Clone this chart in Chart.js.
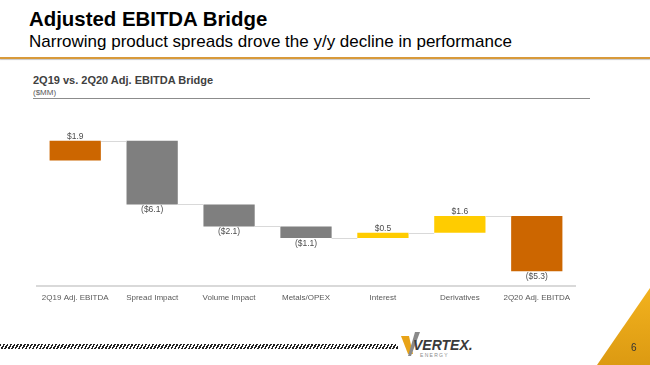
<!DOCTYPE html>
<html>
<head>
<meta charset="utf-8">
<script src="https://cdn.jsdelivr.net/npm/chart.js@4/dist/chart.umd.min.js"></script>
<style>
  html, body { margin: 0; padding: 0; background: #fff; }
  body { width: 650px; height: 365px; position: relative; overflow: hidden; font-family: "Liberation Sans", Arial, Helvetica, sans-serif; }
  .abs { position: absolute; white-space: nowrap; }
  #title { left: 29px; top: 8px; font-size: 20.4px; font-weight: bold; color: #000; }
  #subtitle { left: 29px; top: 32px; font-size: 17px; color: #000; }
  #goldline { left: 0; top: 57px; width: 650px; height: 2px; background: #d89a3a; box-shadow: 0 1px 1px #c8c8c8; }
  #ctitle { left: 33px; top: 74px; font-size: 11px; font-weight: bold; color: #404040; }
  #cunit { left: 33px; top: 88px; font-size: 8px; color: #595959; }
  #cline { left: 33px; top: 98px; width: 557px; height: 1px; background: #8c8c8c; }
  #chartbox { left: 35px; top: 115px; width: 542px; height: 195px; }
  #hatch { left: 0; top: 344px; width: 398px; height: 5px;
    background: repeating-linear-gradient(120deg, #222 0 1.5px, #fff 1.5px 3px); }
  #logo { left: 398px; top: 330px; }
  #page { left: 631px; top: 342px; font-size: 10px; color: #333; }
</style>
</head>
<body>
<div class="abs" id="title">Adjusted EBITDA Bridge</div>
<div class="abs" id="subtitle">Narrowing product spreads drove the y/y decline in performance</div>
<div class="abs" id="goldline"></div>
<div class="abs" id="ctitle">2Q19 vs. 2Q20 Adj. EBITDA Bridge</div>
<div class="abs" id="cunit">($MM)</div>
<div class="abs" id="cline"></div>
<div class="abs" id="chartbox"><canvas id="chart"></canvas></div>
<div class="abs" id="hatch"></div>
<svg class="abs" id="logo" width="90" height="32" viewBox="0 0 90 32">
  <polygon points="3,6 11,6 15,24 10,24" fill="#e8a317"/>
  <polygon points="17,2 22,2 13,26 10,26" fill="#8a8a8a"/>
  <text x="15" y="20" font-family="Liberation Sans, Arial, sans-serif" font-size="14" font-weight="bold" font-style="italic" fill="#3a3a3a">VERTEX.</text>
  <text x="22" y="27" font-family="Liberation Sans, Arial, sans-serif" font-size="5" letter-spacing="1.3" fill="#8a8a8a">ENERGY</text>
</svg>
<svg class="abs" style="left:0;top:0" width="650" height="365">
  <defs>
    <linearGradient id="tri" x1="0" y1="0" x2="0" y2="1">
      <stop offset="0" stop-color="#f2b21e"/>
      <stop offset="1" stop-color="#dc9a12"/>
    </linearGradient>
  </defs>
  <polygon points="650,288 597,365 650,365" fill="url(#tri)"/>
</svg>
<div class="abs" id="page">6</div>

<script>
const categories = ['2Q19 Adj. EBITDA', 'Spread Impact', 'Volume Impact', 'Metals/OPEX', 'Interest', 'Derivatives', '2Q20 Adj. EBITDA'];
const changes = [1.9, -6.1, -2.1, -1.1, 0.5, 1.6, -5.3];
const valueLabels = ['$1.9', '($6.1)', '($2.1)', '($1.1)', '$0.5', '$1.6', '($5.3)'];
const barColors = ['#cc6600', '#7f7f7f', '#7f7f7f', '#7f7f7f', '#ffcc00', '#ffcc00', '#cc6600'];

// floating bars: each bar starts where the previous one ended
let level = 0;
const ranges = changes.map(c => {
    const start = level;
    const end = level + c;
    level = end;
    return [start, end];
});
// closing bar hangs from the final running level
ranges[ranges.length - 1] = [ranges[ranges.length - 2][1], ranges[ranges.length - 2][1] + changes[changes.length - 1]];

const bridgeDecor = {
    id: 'bridgeDecor',
    afterDatasetsDraw(chart) {
        const ctx = chart.ctx;
        const y = chart.scales.y;
        const bars = chart.getDatasetMeta(0).data;
        ctx.save();
        // connector lines
        ctx.strokeStyle = '#d9d9d9';
        ctx.lineWidth = 1;
        for (let i = 0; i < bars.length - 1; i++) {
            const py = Math.round(y.getPixelForValue(ranges[i][1])) + 0.5;
            ctx.beginPath();
            ctx.moveTo(bars[i].x + bars[i].width / 2, py);
            ctx.lineTo(bars[i + 1].x - bars[i + 1].width / 2, py);
            ctx.stroke();
        }
        // value labels
        ctx.font = '8.5px "Liberation Sans", Arial, sans-serif';
        ctx.fillStyle = '#4d4d4d';
        ctx.textAlign = 'center';
        bars.forEach((bar, i) => {
            const a = y.getPixelForValue(ranges[i][0]);
            const b = y.getPixelForValue(ranges[i][1]);
            if (changes[i] >= 0) {
                ctx.textBaseline = 'bottom';
                ctx.fillText(valueLabels[i], bar.x, Math.min(a, b));
            } else {
                ctx.textBaseline = 'top';
                ctx.fillText(valueLabels[i], bar.x, Math.max(a, b) + 1);
            }
        });
        ctx.restore();
    }
};

new Chart(document.getElementById('chart'), {
    type: 'bar',
    data: {
        labels: categories,
        datasets: [{
            data: ranges,
            backgroundColor: barColors,
            borderWidth: 0,
            barPercentage: 0.8,
            categoryPercentage: 0.833,
            clip: false
        }]
    },
    options: {
        responsive: true,
        maintainAspectRatio: false,
        animation: false,
        layout: { padding: 0 },
        plugins: {
            legend: { display: false },
            tooltip: { enabled: false }
        },
        scales: {
            x: {
                grid: { display: false, drawTicks: false },
                border: { display: true, color: '#d9d9d9', width: 2 },
                ticks: {
                    padding: 7,
                    color: '#595959',
                    font: { family: '"Liberation Sans", Arial, sans-serif', size: 8 },
                    maxRotation: 0,
                    autoSkip: false
                },
                afterFit: s => { s.height = 24; }
            },
            y: {
                display: false,
                min: -12.0,
                max: 4.36
            }
        }
    },
    plugins: [bridgeDecor]
});
</script>
</body>
</html>
